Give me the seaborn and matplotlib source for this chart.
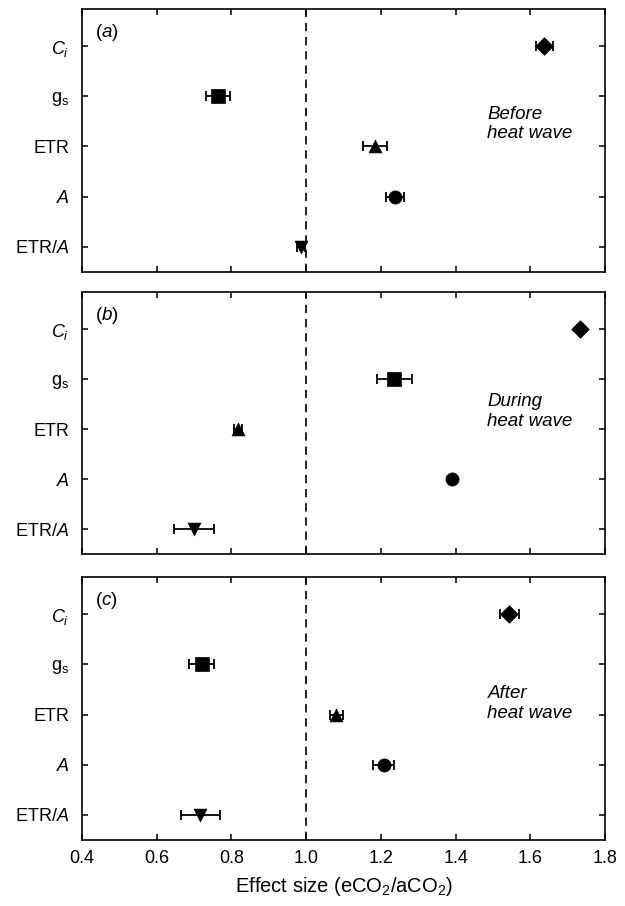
import matplotlib
matplotlib.use("Agg")
import matplotlib.pyplot as plt
import seaborn as sns
import pandas as pd

sns.set_style("ticks")
plt.rcParams['font.family'] = ['Liberation Sans', 'DejaVu Sans']
plt.rcParams['mathtext.fontset'] = 'custom'
plt.rcParams['mathtext.rm'] = 'Liberation Sans'
plt.rcParams['mathtext.it'] = 'Liberation Sans:italic'
plt.rcParams['text.color'] = 'black'
plt.rcParams['xtick.color'] = 'black'
plt.rcParams['ytick.color'] = 'black'
plt.rcParams['axes.labelcolor'] = 'black'

variables = ["Ci", "gs", "ETR", "A", "ETR/A"]
tick_labels = [r"$C_i$", r"g$_\mathrm{s}$", "ETR", r"$A$", r"ETR/$A$"]
ypos = [4, 3, 2, 1, 0]
markers = {"Ci": "D", "gs": "s", "ETR": "^", "A": "o", "ETR/A": "v"}
msizes = {"Ci": 80, "gs": 90, "ETR": 85, "A": 90, "ETR/A": 85}

before_mean = [1.637, 0.764, 1.184, 1.238, 0.986]
before_err = [0.023, 0.033, 0.032, 0.025, 0.010]
during_mean = [1.734, 1.236, 0.818, 1.390, 0.700]
during_err = [0.008, 0.047, 0.010, 0.006, 0.053]
after_mean = [1.544, 0.720, 1.081, 1.207, 0.717]
after_err = [0.025, 0.034, 0.018, 0.027, 0.053]

panels = [("a", "Before\nheat wave", before_mean, before_err, 2.45),
          ("b", "During\nheat wave", during_mean, during_err, 2.35),
          ("c", "After\nheat wave", after_mean, after_err, 2.22)]

fig = plt.figure(figsize=(6.25, 9.06), dpi=100)
rects = [(0.1312, 0.6998, 0.837, 0.2903),
         (0.1312, 0.3885, 0.837, 0.2892),
         (0.1312, 0.0728, 0.837, 0.2903)]

for i, (rect, (letter, note, means, errs, ty)) in enumerate(zip(rects, panels)):
    ax = fig.add_axes(rect)
    df = pd.DataFrame({"var": variables, "y": ypos, "mean": means, "err": errs})
    ax.errorbar(df["mean"], df["y"], xerr=df["err"], fmt="none", ecolor="black",
                elinewidth=1.3, capsize=3.5, capthick=1.3, zorder=2)
    for v in variables:
        sub = df[df["var"] == v]
        sns.scatterplot(data=sub, x="mean", y="y", marker=markers[v], s=msizes[v],
                        color="black", edgecolor="black", linewidth=0.5, ax=ax,
                        legend=False, zorder=3)
    ax.axvline(1.0, color="black", linestyle=(0, (5, 3.5)), linewidth=1.2, zorder=1)
    ax.set_xlim(0.4, 1.8)
    ax.set_ylim(-0.5, 4.74)
    ax.set_yticks(ypos)
    ax.set_yticklabels(tick_labels)
    ax.set_xticks([0.4, 0.6, 0.8, 1.0, 1.2, 1.4, 1.6, 1.8])
    ax.tick_params(direction="in", top=True, right=True, length=4, width=1.1,
                   labelsize=13)
    ax.tick_params(axis="y", pad=9)
    ax.tick_params(axis="x", pad=7)
    for s in ax.spines.values():
        s.set_linewidth(1.2)
        s.set_color("black")
    if i < 2:
        ax.set_xticklabels([])
        ax.set_xlabel("")
    else:
        ax.set_xticklabels(["0.4", "0.6", "0.8", "1.0", "1.2", "1.4", "1.6", "1.8"])
        ax.set_xlabel(r"Effect size (eCO$_2$/aCO$_2$)", fontsize=14.5, labelpad=6)
    ax.set_ylabel("")
    ax.text(0.435, 4.28, "(" + r"$\it{" + letter + "}$" + ")", fontsize=13.5,
            ha="left", va="center")
    ax.text(1.485, ty, note, fontsize=13.5, style="italic", ha="left", va="center",
            linespacing=1.2)

fig.savefig("out.png", dpi=100)
